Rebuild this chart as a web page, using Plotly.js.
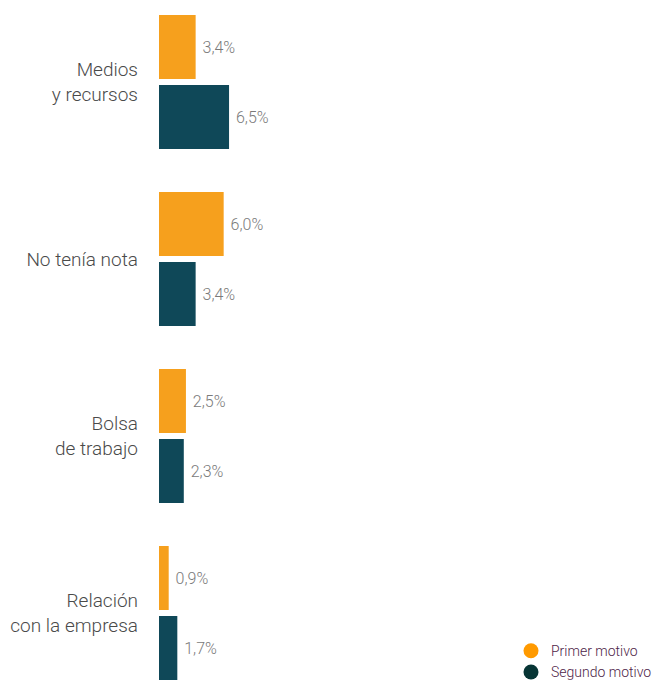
<!DOCTYPE html>
<html>
<head>
<meta charset="utf-8">
<script src="https://cdn.plot.ly/plotly-3.0.1.min.js"></script>
<style>
  body { margin: 0; background: #fff; }
  #chart { width: 658px; height: 680px; }
</style>
</head>
<body>
<div id="chart"></div>
<script>
// categories (top to bottom) and the two series
var categories = ["Medios<br>y recursos", "No tenía nota", "Bolsa<br>de trabajo", "Relación<br>con la empresa"];
var primerMotivo = [3.4, 6.0, 2.5, 0.9];
var segundoMotivo = [6.5, 3.4, 2.3, 1.7];
var seriesNames = ["Primer motivo", "Segundo motivo"];

var fontFam = "Roboto, 'Liberation Sans', sans-serif";

function pct(v) {
  return "\u00a0" + v.toFixed(1).replace(".", ",") + "%";
}

var barStyle = {
  type: "bar",
  orientation: "h",
  y: categories,
  textposition: "outside",
  cliponaxis: false,
  textfont: {family: fontFam, size: 16, weight: 300, color: "#7a7a7a"},
  hoverinfo: "skip",
  showlegend: false
};

var data = [
  Object.assign({}, barStyle, {
    x: primerMotivo,
    text: primerMotivo.map(pct),
    marker: {color: "#F6A01D"}
  }),
  Object.assign({}, barStyle, {
    x: segundoMotivo,
    text: segundoMotivo.map(pct),
    marker: {color: "#0F4858"}
  }),
  // legend entries drawn as circles
  {type: "scatter", mode: "markers", x: [null], y: [null], name: seriesNames[0],
   marker: {symbol: "circle", size: 15, color: "#FF9A00"}},
  {type: "scatter", mode: "markers", x: [null], y: [null], name: seriesNames[1],
   marker: {symbol: "circle", size: 15, color: "#073535"}}
];

var layout = {
  width: 658,
  height: 680,
  margin: {l: 159, r: 0, t: 0, b: 0, autoexpand: false},
  paper_bgcolor: "#fff",
  plot_bgcolor: "#fff",
  barmode: "group",
  bargap: 0.209,
  bargroupgap: 0.086,
  font: {family: fontFam},
  xaxis: {
    range: [0, 46.3],
    visible: false,
    showgrid: false,
    zeroline: false
  },
  yaxis: {
    type: "category",
    categoryorder: "array",
    categoryarray: categories,
    range: [3.3785, -0.4633],
    showgrid: false,
    zeroline: false,
    showline: false,
    ticks: "",
    ticklabelstandoff: 20,
    tickfont: {family: fontFam, size: 19, weight: 300, color: "#4a4a4a"}
  },
  legend: {
    x: 0.7054,
    xanchor: "left",
    y: -0.012,
    yanchor: "bottom",
    bgcolor: "rgba(0,0,0,0)",
    font: {family: fontFam, size: 14, weight: 300, color: "#4e2448"},
    itemwidth: 30,
    tracegroupgap: 0
  },
  showlegend: true
};

Plotly.newPlot("chart", data, layout, {displayModeBar: false, staticPlot: true});
</script>
</body>
</html>
